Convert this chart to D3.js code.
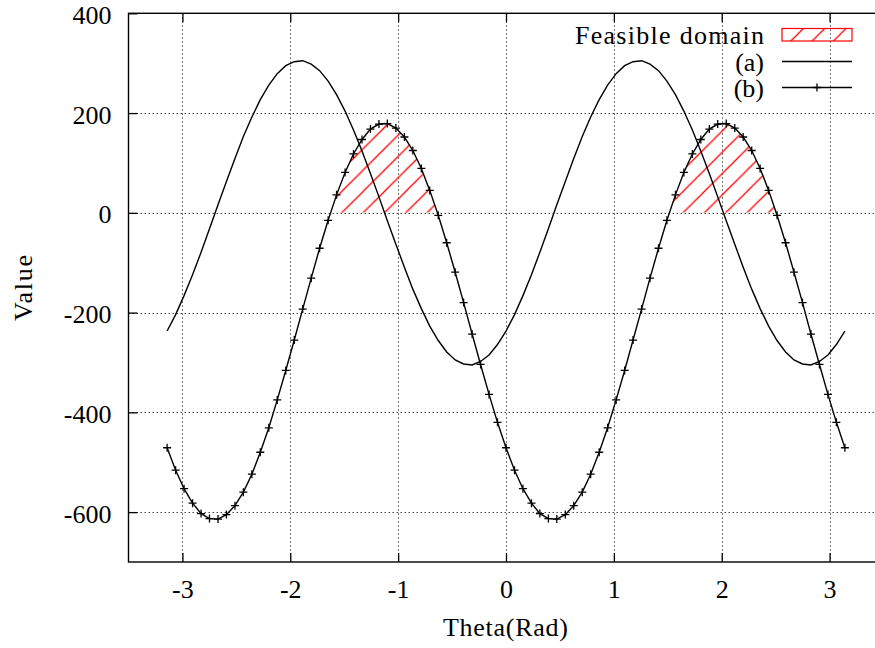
<!DOCTYPE html>
<html>
<head>
<meta charset="utf-8">
<script src="https://cdn.jsdelivr.net/npm/d3@7"></script>
<style>
  body { margin: 0; background: #fff; }
  svg { display: block; font-family: "Liberation Serif", "Times New Roman", serif; }
</style>
</head>
<body>
<script>
// sample angles (rad)
const theta = [
  -3.142, -3.063, -2.985, -2.906, -2.827, -2.749, -2.670, -2.592, -2.513, -2.435,
  -2.356, -2.278, -2.199, -2.121, -2.042, -1.963, -1.885, -1.806, -1.728, -1.649,
  -1.571, -1.492, -1.414, -1.335, -1.257, -1.178, -1.100, -1.021, -0.942, -0.864,
  -0.785, -0.707, -0.628, -0.550, -0.471, -0.393, -0.314, -0.236, -0.157, -0.079,
  0.000, 0.079, 0.157, 0.236, 0.314, 0.393, 0.471, 0.550, 0.628, 0.707,
  0.785, 0.864, 0.942, 1.021, 1.100, 1.178, 1.257, 1.335, 1.414, 1.492,
  1.571, 1.649, 1.728, 1.806, 1.885, 1.963, 2.042, 2.121, 2.199, 2.278,
  2.356, 2.435, 2.513, 2.592, 2.670, 2.749, 2.827, 2.906, 2.985, 3.063, 3.142
];

// curve (a)
const seriesA = [
  -237, -204, -166, -124, -79, -32, 16, 63, 109, 153,
  192, 227, 256, 279, 295, 303, 305, 298, 285, 264,
  237, 204, 166, 124, 79, 32, -16, -63, -109, -153,
  -192, -227, -256, -279, -295, -303, -305, -298, -285, -264,
  -237, -204, -166, -124, -79, -32, 16, 63, 109, 153,
  192, 227, 256, 279, 295, 303, 305, 298, 285, 264,
  237, 204, 166, 124, 79, 32, -16, -63, -109, -153,
  -192, -227, -256, -279, -295, -303, -305, -298, -285, -264, -237
];

// curve (b), with point markers
const seriesB = [
  -471, -516, -553, -582, -603, -613, -614, -605, -587, -560,
  -524, -480, -431, -375, -316, -255, -193, -131, -71, -15,
  36, 81, 118, 147, 168, 178, 179, 170, 152, 125,
  89, 45, -5, -60, -119, -180, -243, -304, -364, -420,
  -471, -516, -553, -582, -603, -613, -614, -605, -587, -560,
  -524, -480, -431, -375, -316, -255, -193, -131, -71, -15,
  36, 81, 118, 147, 168, 178, 179, 170, 152, 125,
  89, 45, -5, -60, -119, -180, -243, -304, -364, -420, -471
];

const xTicks = [-3, -2, -1, 0, 1, 2, 3];
const yTicks = [-600, -400, -200, 0, 200, 400];
const legendLabels = ["Feasible domain", "(a)", "(b)"];

const W = 875, H = 648;
const plotLeft = 128.5, plotTop = 13.3, plotBottom = 562, plotRight = 883.5;
const fontSize = 26;

const x = d3.scaleLinear().domain([-3.5, 3.5]).range([plotLeft, plotRight]);
const y = d3.scaleLinear().domain([-700, 400]).range([plotBottom, plotTop]);

const pts = theta.map((t, i) => ({ t, a: seriesA[i], b: seriesB[i] }));

const svg = d3.select("body").append("svg")
  .attr("width", W)
  .attr("height", H);

const defs = svg.append("defs");
const hs = 21.33;
const pat = defs.append("pattern")
  .attr("id", "hatch")
  .attr("patternUnits", "userSpaceOnUse")
  .attr("width", hs)
  .attr("height", hs);
pat.append("path")
  .attr("d", `M0,${hs}L${hs},0M-2,2L2,-2M${hs - 2},${hs + 2}L${hs + 2},${hs - 2}`)
  .attr("stroke", "#ff0000")
  .attr("stroke-width", 1.3);

defs.append("clipPath").attr("id", "above0")
  .append("rect")
  .attr("x", plotLeft)
  .attr("y", plotTop)
  .attr("width", W - plotLeft)
  .attr("height", y(0) - plotTop);

// grid
const grid = svg.append("g")
  .attr("stroke", "#444")
  .attr("stroke-width", 1)
  .attr("stroke-dasharray", "1.5,2.5");
grid.selectAll(".gx").data(xTicks).join("line")
  .attr("x1", d => Math.round(x(d)) + 0.5)
  .attr("x2", d => Math.round(x(d)) + 0.5)
  .attr("y1", plotTop)
  .attr("y2", plotBottom);
grid.selectAll(".gy").data(yTicks.filter(d => d < 400)).join("line")
  .attr("x1", plotLeft)
  .attr("x2", W)
  .attr("y1", d => Math.round(y(d)) + 0.5)
  .attr("y2", d => Math.round(y(d)) + 0.5);

// feasible domain: where (b) is above zero
const area = d3.area()
  .x(d => x(d.t))
  .y0(y(0))
  .y1(d => y(d.b));
svg.append("path")
  .datum(pts)
  .attr("d", area)
  .attr("fill", "url(#hatch)")
  .attr("clip-path", "url(#above0)");

const lineA = d3.line().x(d => x(d.t)).y(d => y(d.a));
const lineB = d3.line().x(d => x(d.t)).y(d => y(d.b));

svg.append("path")
  .datum(pts)
  .attr("d", lineA)
  .attr("fill", "none")
  .attr("stroke", "#000")
  .attr("stroke-width", 1.4);

svg.append("path")
  .datum(pts)
  .attr("d", lineB)
  .attr("fill", "none")
  .attr("stroke", "#000")
  .attr("stroke-width", 1.4);

const plus = "M-4,0H4M0,-4V4";
svg.append("g").selectAll("path").data(pts).join("path")
  .attr("transform", d => `translate(${x(d.t)},${y(d.b)})`)
  .attr("d", plus)
  .attr("stroke", "#000")
  .attr("stroke-width", 1.3);

// frame
svg.append("rect")
  .attr("x", plotLeft)
  .attr("y", plotTop)
  .attr("width", plotRight - plotLeft)
  .attr("height", plotBottom - plotTop)
  .attr("fill", "none")
  .attr("stroke", "#000")
  .attr("stroke-width", 1.4);

// axes
function styleAxis(g) {
  g.select(".domain").remove();
  g.attr("font-family", null).attr("font-size", fontSize);
  g.selectAll(".tick line").attr("stroke", "#000").attr("stroke-width", 1.3);
  g.selectAll(".tick text").attr("fill", "#000");
}

svg.append("g")
  .attr("transform", `translate(0,${plotBottom})`)
  .call(d3.axisBottom(x).tickValues(xTicks).tickSizeInner(-9).tickSizeOuter(0)
    .tickFormat(d => String(d)))
  .call(styleAxis)
  .selectAll(".tick text")
  .attr("dy", 0)
  .attr("y", 35.5);

svg.append("g")
  .attr("transform", `translate(0,${plotTop})`)
  .call(d3.axisTop(x).tickValues(xTicks).tickSizeInner(-9).tickSizeOuter(0)
    .tickFormat(""))
  .call(styleAxis);

svg.append("g")
  .attr("transform", `translate(${plotLeft},0)`)
  .call(d3.axisLeft(y).tickValues(yTicks).tickSizeInner(-9).tickSizeOuter(0)
    .tickFormat(d => String(d)))
  .call(styleAxis)
  .selectAll(".tick text")
  .attr("dy", 0)
  .attr("x", -17)
  .attr("y", 10);

// axis titles
svg.append("text")
  .attr("x", 505.5)
  .attr("y", 636)
  .attr("text-anchor", "middle")
  .attr("font-size", fontSize)
  .attr("textLength", 125)
  .text("Theta(Rad)");

svg.append("text")
  .attr("transform", "translate(31.5,288) rotate(-90)")
  .attr("text-anchor", "middle")
  .attr("font-size", fontSize)
  .attr("textLength", 66)
  .text("Value");

// legend
const legX = 764, symX0 = 782, symX1 = 852;
const legY = [34.5, 61.5, 87.5];

const leg = svg.append("g").attr("font-size", fontSize);
leg.selectAll("text").data(legendLabels).join("text")
  .attr("x", legX)
  .attr("y", (d, i) => legY[i] + 9.4)
  .attr("text-anchor", "end")
  .attr("textLength", (d, i) => i === 0 ? 189 : null)
  .text(d => d);

leg.append("rect")
  .attr("x", symX0)
  .attr("y", legY[0] - 6)
  .attr("width", symX1 - symX0)
  .attr("height", 12.5)
  .attr("fill", "url(#hatch)")
  .attr("stroke", "#ff0000")
  .attr("stroke-width", 1.2);

leg.append("line")
  .attr("x1", symX0).attr("x2", symX1)
  .attr("y1", legY[1]).attr("y2", legY[1])
  .attr("stroke", "#000").attr("stroke-width", 1.3);

leg.append("line")
  .attr("x1", symX0).attr("x2", symX1)
  .attr("y1", legY[2]).attr("y2", legY[2])
  .attr("stroke", "#000").attr("stroke-width", 1.3);

leg.append("path")
  .attr("transform", `translate(${(symX0 + symX1) / 2},${legY[2]})`)
  .attr("d", plus)
  .attr("stroke", "#000")
  .attr("stroke-width", 1.3);
</script>
</body>
</html>
